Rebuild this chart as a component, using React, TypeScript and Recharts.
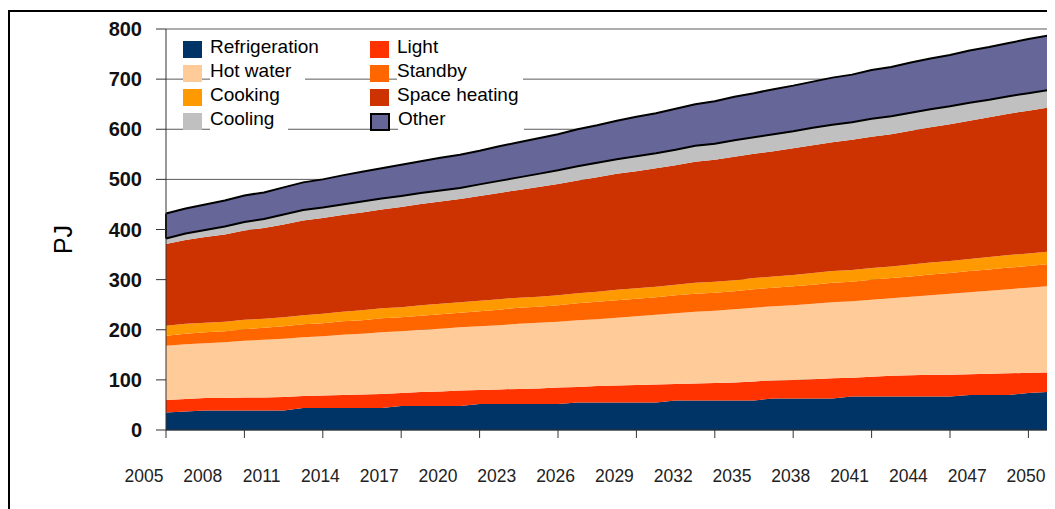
import {
  ComposedChart,
  Area,
  XAxis,
  YAxis,
  CartesianGrid,
  ReferenceLine
} from "recharts";

const years = [
  2005, 2006, 2007, 2008, 2009, 2010, 2011, 2012, 2013, 2014, 2015, 2016,
  2017, 2018, 2019, 2020, 2021, 2022, 2023, 2024, 2025, 2026, 2027, 2028,
  2029, 2030, 2031, 2032, 2033, 2034, 2035, 2036, 2037, 2038, 2039, 2040,
  2041, 2042, 2043, 2044, 2045, 2046, 2047, 2048, 2049, 2050
];

const refrigeration = [
  35, 37, 39, 39, 39, 39, 39, 44, 44, 44, 44, 44,
  48, 48, 48, 48, 52, 52, 52, 52, 52, 55, 55, 55,
  55, 55, 59, 59, 59, 59, 59, 63, 63, 63, 63, 67,
  67, 67, 67, 67, 67, 70, 70, 70, 74, 76
];
const light = [
  25, 25, 25, 25, 26, 26, 27, 24, 25, 26, 27, 28,
  26, 28, 29, 31, 28, 29, 30, 31, 33, 31, 33, 34,
  35, 36, 33, 34, 35, 36, 38, 36, 37, 38, 40, 37,
  39, 41, 42, 43, 43, 41, 42, 43, 40, 39
];
const hotWater = [
  108, 109, 109, 111, 113, 115, 116, 117, 118, 120, 121, 123,
  123, 124, 125, 126, 127, 128, 130, 131, 131, 133, 133, 135,
  137, 139, 141, 143, 144, 146, 147, 148, 149, 151, 152, 153,
  154, 155, 157, 159, 162, 164, 166, 168, 170, 172
];
const standby = [
  20, 21, 22, 22, 23, 24, 25, 26, 26, 27, 27, 28,
  28, 28, 29, 29, 30, 31, 32, 32, 33, 34, 35, 35,
  35, 35, 36, 36, 36, 36, 37, 37, 38, 38, 39, 39,
  40, 40, 40, 41, 41, 42, 42, 43, 43, 44
];
const cooking = [
  20, 20, 19, 19, 19, 18, 18, 18, 19, 19, 20, 20,
  20, 21, 21, 21, 21, 21, 20, 20, 20, 20, 20, 21,
  21, 21, 21, 22, 22, 22, 22, 22, 22, 23, 23, 23,
  23, 23, 24, 24, 24, 24, 25, 25, 25, 25
];
const spaceHeating = [
  163, 167, 171, 174, 178, 181, 185, 189, 191, 193, 195, 197,
  200, 202, 204, 206, 209, 212, 215, 219, 222, 225, 228, 231,
  233, 236, 238, 241, 243, 246, 248, 250, 253, 255, 257, 260,
  262, 264, 267, 270, 273, 276, 279, 282, 285, 287
];
const cooling = [
  11, 13, 14, 16, 17, 18, 20, 21, 21, 21, 22, 22,
  22, 22, 22, 22, 23, 24, 25, 26, 27, 28, 29, 29,
  30, 30, 31, 32, 32, 33, 33, 34, 34, 35, 35, 35,
  36, 36, 36, 36, 36, 36, 35, 35, 35, 35
];
const other = [
  50, 50, 51, 52, 53, 53, 54, 55, 56, 58, 59, 60,
  62, 63, 65, 66, 67, 69, 70, 71, 72, 74, 75, 77,
  79, 80, 82, 83, 85, 87, 88, 90, 91, 92, 94, 95,
  97, 98, 100, 101, 102, 104, 105, 106, 108, 109
];

const yTicks = [0, 100, 200, 300, 400, 500, 600, 700, 800];
const tickMarkYears = [2005, 2009, 2013, 2017, 2021, 2025, 2029, 2033, 2037, 2041, 2045, 2049];
const labelYears = [2005, 2008, 2011, 2014, 2017, 2020, 2023, 2026, 2029, 2032, 2035, 2038, 2041, 2044, 2047, 2050];
const allXTicks = Array.from(new Set([...tickMarkYears, ...labelYears])).sort((a, b) => a - b);

const stacked = [
  { key: "refrigeration", name: "Refrigeration", color: "#003366", values: refrigeration },
  { key: "light", name: "Light", color: "#FF3300", values: light },
  { key: "hotWater", name: "Hot water", color: "#FFCC99", values: hotWater },
  { key: "standby", name: "Standby", color: "#FF6600", values: standby },
  { key: "cooking", name: "Cooking", color: "#FF9900", values: cooking },
  { key: "spaceHeating", name: "Space heating", color: "#CC3300", values: spaceHeating },
  { key: "cooling", name: "Cooling", color: "#C0C0C0", values: cooling }
];

const data = years.map((year, i) => {
  const row: any = { year };
  let sum = 0;
  stacked.forEach((s) => {
    row[s.key] = s.values[i];
    sum += s.values[i];
  });
  row.other = [sum, sum + other[i]];
  return row;
});

const first = data[0];
const last = data[data.length - 1];

// legend in two columns, same order as the original
const legendRows = [
  [{ name: "Refrigeration", color: "#003366" }, { name: "Light", color: "#FF3300" }],
  [{ name: "Hot water", color: "#FFCC99" }, { name: "Standby", color: "#FF6600" }],
  [{ name: "Cooking", color: "#FF9900" }, { name: "Space heating", color: "#CC3300" }],
  [{ name: "Cooling", color: "#C0C0C0" }, { name: "Other", color: "#666699", border: true }]
];

const FONT = "'Liberation Sans', Arial, sans-serif";

function LegendBox() {
  return (
    <div
      style={{
        position: "absolute",
        left: 173,
        top: 23,
        fontFamily: FONT,
        fontSize: 19,
        color: "#000"
      }}
    >
      {legendRows.map((row, r) => (
        <div key={r} style={{ display: "flex", height: 24, lineHeight: "24px" }}>
          {row.map((item, c) => (
            <div key={item.name} style={{ display: "flex", width: c === 0 ? 187 : 160 }}>
              <span
                style={{
                  display: "inline-block",
                  width: item.border ? 16 : 19,
                  height: item.border ? 14 : 17,
                  marginTop: 6,
                  background: item.color,
                  border: item.border ? "2px solid #000" : "none"
                }}
              />
              <span
                style={{
                  background: "#fff",
                  marginLeft: 8,
                  paddingRight: c === 0 ? 14 : 0,
                  width: c === 1 ? 126 : "auto",
                  whiteSpace: "nowrap"
                }}
              >
                {item.name}
              </span>
            </div>
          ))}
        </div>
      ))}
    </div>
  );
}

// tick marks every 4 years, labels every 3 years (shifted left like the original)
function YearTick(props: any) {
  const { x, y, payload } = props;
  const v = payload.value;
  return (
    <g>
      {tickMarkYears.includes(v) && <line x1={x} x2={x} y1={y} y2={y + 8} stroke="#333" />}
      {labelYears.includes(v) && (
        <text x={x - 22} y={y + 40} dy="0.71em" textAnchor="middle" fontFamily={FONT} fontSize={17.5} fill="#222">
          {v}
        </text>
      )}
    </g>
  );
}

function PJLabel(props: any) {
  const { viewBox } = props;
  const x = viewBox.x - 34;
  const y = viewBox.y + viewBox.height / 2 + 10;
  return (
    <text x={x} y={y} transform={`rotate(-90 ${x} ${y})`} textAnchor="middle" fontFamily={FONT} fontSize={25} fill="#000">
      PJ
    </text>
  );
}

export default function App() {
  return (
    <div
      style={{
        marginTop: 2,
        width: 1045,
        height: 497,
        borderTop: "2px solid #000",
        borderLeft: "2px solid #000",
        overflow: "hidden",
        position: "relative"
      }}
    >
      <style>{"html,body{overflow:hidden}"}</style>
      <ComposedChart width={1045} height={497} data={data} margin={{ top: 17, right: 7, left: 96, bottom: 0 }}>
        <CartesianGrid horizontal vertical={false} stroke="#5a5a5a" />
        <XAxis
          dataKey="year"
          type="number"
          domain={[2005, 2050]}
          ticks={allXTicks}
          interval={0}
          tickLine={false}
          tickSize={0}
          tickMargin={0}
          tick={<YearTick />}
          height={79}
          stroke="#333"
        />
        <YAxis
          domain={[0, 800]}
          ticks={yTicks}
          interval={0}
          width={60}
          tickSize={10}
          tickMargin={14}
          stroke="#333"
          tick={{ fontFamily: FONT, fontSize: 20, fontWeight: "bold", fill: "#111" }}
          label={<PJLabel />}
        />
        {stacked.map((s) => (
          <Area
            key={s.key}
            type="linear"
            dataKey={s.key}
            name={s.name}
            stackId="a"
            stroke="none"
            fill={s.color}
            fillOpacity={1}
            isAnimationActive={false}
          />
        ))}
        <Area
          type="linear"
          dataKey="other"
          name="Other"
          stroke="#000"
          strokeWidth={2}
          fill="#666699"
          fillOpacity={1}
          isAnimationActive={false}
        />
        <ReferenceLine x={2050} stroke="#b4b4b4" strokeWidth={1.5} />
        <ReferenceLine
          segment={[{ x: first.year, y: first.other[0] }, { x: first.year, y: first.other[1] }]}
          stroke="#000"
          strokeWidth={2}
        />
        <ReferenceLine
          segment={[{ x: last.year, y: last.other[0] }, { x: last.year, y: last.other[1] }]}
          stroke="#000"
          strokeWidth={2}
        />
      </ComposedChart>
      <LegendBox />
    </div>
  );
}
